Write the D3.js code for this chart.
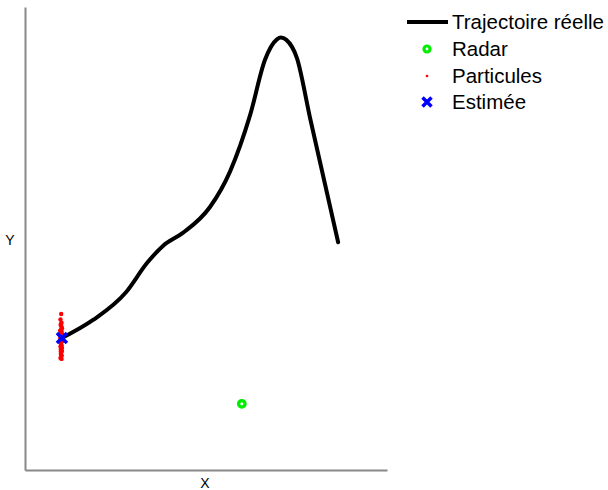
<!DOCTYPE html>
<html><head><meta charset="utf-8">
<script src="https://cdn.jsdelivr.net/npm/d3@7"></script>
<style>body{margin:0;background:#fff}text{font-family:"Liberation Sans",Arial,sans-serif}</style>
</head><body><svg id="c" width="608" height="490"></svg>
<script>
const trajX = [10.2,18.8,27.9,33.7,38.1,43.6,51.1,56.6,62.2,66.3,69.6,70.7,72.2,75.1,78.7,86.5];
const trajY = [28.5,32.4,38.4,44.7,48.4,51.2,56.8,64.4,76.7,88.6,93.0,93.4,92.9,89.0,76.2,49.2];
const radarX = [59.9], radarY = [14.3];
const estX = [10.2], estY = [28.5];
const partX = [10.0,9.8,10.1,9.9,10.2,9.7,10.0,10.3,9.9,10.1,9.8,10.0,10.2,9.9,10.0,10.1,9.8,10.0,9.9,10.2,10.0,9.9,10.1,10.0,9.8,10.1,9.9,10.0,10.2,9.9,10.0,10.1,9.9,10.0,10.1,9.8,10.0,10.2,9.9,10.0];
const partY = [33.7,32.5,31.8,31.2,30.6,30.1,29.7,29.3,29.0,28.7,28.4,28.1,27.8,27.5,27.2,26.9,26.6,26.3,26.0,25.7,25.4,25.1,24.8,24.5,24.2,30.9,29.5,28.9,27.9,26.8,25.9,24.0,31.5,30.3,29.9,28.6,27.6,26.4,25.6,24.7];
const legendLabels = ["Trajectoire réelle","Radar","Particules","Estimée"];
const xLabel = "X", yLabel = "Y";

const svg = d3.select("#c");
const x = d3.scaleLinear().domain([0,100]).range([25,387]);
const y = d3.scaleLinear().domain([0,100]).range([470,7]);

svg.append("g").attr("transform","translate(0,470)")
  .call(d3.axisBottom(x).tickValues([]).tickSizeOuter(0))
  .call(g=>g.select(".domain").attr("stroke","#888").attr("stroke-width",2));
svg.append("g").attr("transform","translate(25,0)")
  .call(d3.axisLeft(y).tickValues([]).tickSizeOuter(0))
  .call(g=>g.select(".domain").attr("stroke","#888").attr("stroke-width",2));

svg.append("text").attr("x",205).attr("y",488).attr("text-anchor","middle").attr("font-size",14).text(xLabel);
svg.append("text").attr("x",10).attr("y",245).attr("text-anchor","middle").attr("font-size",14).text(yLabel);

const traj = trajX.map((v,i)=>[v,trajY[i]]);
svg.append("path").datum(traj)
  .attr("fill","none").attr("stroke","#000").attr("stroke-width",4).attr("stroke-linecap","round")
  .attr("d", d3.line().x(d=>x(d[0])).y(d=>y(d[1])).curve(d3.curveMonotoneX));

svg.append("g").selectAll("circle").data(partX.map((v,i)=>[v,partY[i]])).join("circle")
  .attr("cx",d=>x(d[0])).attr("cy",d=>y(d[1])).attr("r",2.2).attr("fill","#f00");

svg.append("g").selectAll("circle").data(radarX.map((v,i)=>[v,radarY[i]])).join("circle")
  .attr("cx",d=>x(d[0])).attr("cy",d=>y(d[1])).attr("r",3.2).attr("fill","#fff").attr("stroke","#00ee00").attr("stroke-width",3.4);

function xMark(g, cx, cy, s){
  g.append("path").attr("d",`M${cx-s},${cy-s}L${cx+s},${cy+s}M${cx-s},${cy+s}L${cx+s},${cy-s}`)
    .attr("stroke","#0000ff").attr("stroke-width",3.5);
}
estX.forEach((v,i)=>xMark(svg, x(v), y(estY[i]), 5));

const lg = svg.append("g");
lg.append("line").attr("x1",407).attr("x2",448).attr("y1",22).attr("y2",22).attr("stroke","#000").attr("stroke-width",4);
lg.append("circle").attr("cx",427).attr("cy",49).attr("r",3).attr("fill","#fff").attr("stroke","#00ee00").attr("stroke-width",3.2);
lg.append("circle").attr("cx",427).attr("cy",76).attr("r",1.3).attr("fill","#f00");
xMark(lg, 427, 102, 4.5);
const ly = [22,49,76,102];
lg.selectAll("text.l").data(legendLabels).join("text").attr("class","l")
  .attr("x",452).attr("y",(d,i)=>ly[i]).attr("dy","0.36em").attr("font-size",20.5).text(d=>d);
</script></body></html>
